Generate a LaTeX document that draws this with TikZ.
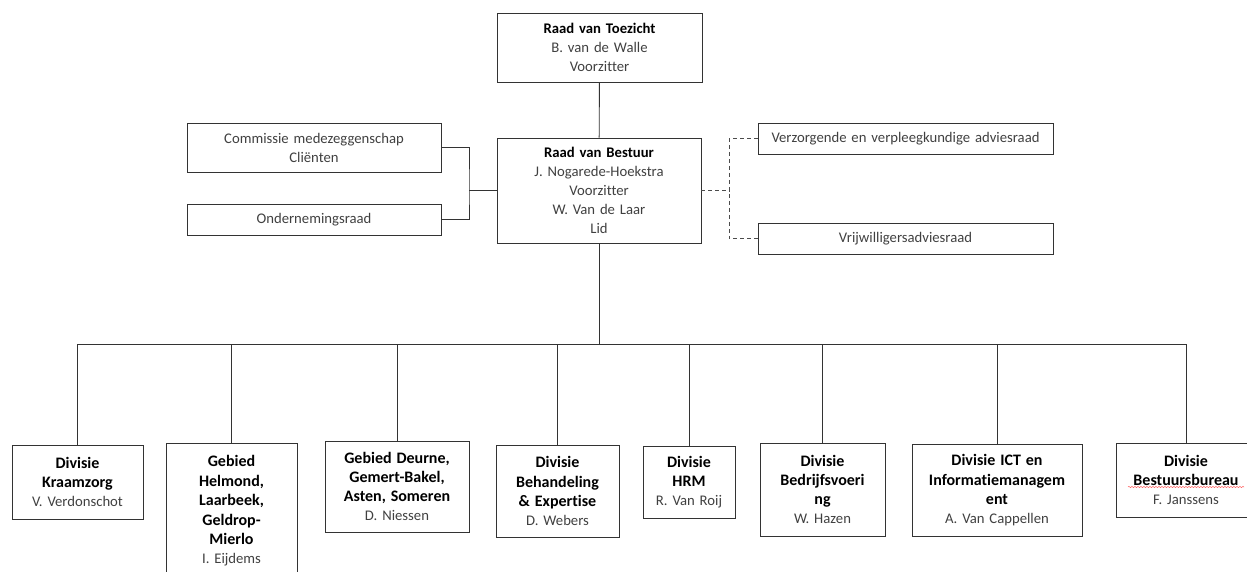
\documentclass[tikz,border=0pt]{standalone}
\usepackage{fontspec}
\setmainfont{Carlito}[Ligatures=NoCommon]
\usetikzlibrary{decorations.pathmorphing}
\newcommand{\kop}[1]{{\color{black}\bfseries #1}}
\newcommand{\divkop}[1]{{\color{black}\fontsize{16}{19.5}\selectfont\bfseries #1}}
\begin{document}
\begin{tikzpicture}[x=1pt, y=-1pt, line width=0.9pt,
  box/.style={draw=black!80, align=center, inner sep=0pt, font=\fontsize{14.7}{19}\selectfont, text=black!75},
  link/.style={draw=black!80},
  advies/.style={draw=black!70, dash pattern=on 4pt off 3pt},
  spell/.style={draw=red!65, line width=0.5pt, decorate, decoration={snake, amplitude=0.6pt, segment length=3pt}}]
\useasboundingbox (0,0) rectangle (1247,571);
\clip (0,0) rectangle (1247,571);
\node[box, text width=205pt, minimum height=69pt] (rvt) at (599.5,47.5) {\kop{Raad van Toezicht}\\B. van de Walle\\Voorzitter};
\node[box, text width=204pt, minimum height=105pt] (rvb) at (599,190.5) {\kop{Raad van Bestuur}\\J. Nogarede-Hoekstra\\Voorzitter\\W. Van de Laar\\Lid};
\node[box, text width=254pt, minimum height=49pt] (cmc) at (314,147.5) {Commissie medezeggenschap\\Cliënten};
\node[box, text width=254pt, minimum height=31pt] (or) at (314,219.5) {Ondernemingsraad};
\node[box, text width=295pt, minimum height=31pt] (vvar) at (905.5,138.5) {Verzorgende en verpleegkundige adviesraad};
\node[box, text width=295pt, minimum height=31pt] (var) at (905.5,238.5) {Vrijwilligersadviesraad};
\node[box, text width=131pt, minimum height=74pt] (kraam) at (77.5,482) {\divkop{Divisie\\Kraamzorg}\\V. Verdonschot};
\node[box, text width=131pt, minimum height=135pt] (helmond) at (231.5,510.5) {\divkop{Gebied\\Helmond,\\Laarbeek,\\Geldrop-\\Mierlo}\\I. Eijdems};
\node[box, text width=144pt, minimum height=91pt] (deurne) at (397,486.5) {\divkop{Gebied Deurne,\\Gemert-Bakel,\\Asten, Someren}\\D. Niessen};
\node[box, text width=123pt, minimum height=92pt] (behexp) at (557.5,491) {\divkop{Divisie\\Behandeling\\\& Expertise}\\D. Webers};
\node[box, text width=92pt, minimum height=72pt] (hrm) at (689,482) {\divkop{Divisie\\HRM}\\R. Van Roij};
\node[box, text width=125pt, minimum height=93pt] (bedr) at (822.5,489.5) {\divkop{Divisie\\Bedrijfsvoeri\\ng}\\W. Hazen};
\node[box, text width=170pt, minimum height=92pt] (ict) at (997,490) {\divkop{Divisie ICT en\\Informatiemanagem\\ent}\\A. Van Cappellen};
\node[box, text width=140pt, minimum height=74pt] (bb) at (1186,480) {\divkop{Divisie\\Bestuursbureau}\\F. Janssens};
\draw[spell] ([xshift=-58pt, yshift=-7pt]bb.center) -- ++(116,0);
\coordinate (lj) at (469,190.5);
\coordinate (rj) at (729,190.5);
\coordinate (bus) at (599,344);
\draw[link] (rvt) -- (rvb);
\draw[link] (cmc.east) -| (lj) |- (or.east);
\draw[link] (lj) -- (rvb.west);
\draw[advies] (rvb.east) -- (rj);
\draw[advies] (vvar.west) -| (rj) |- (var.west);
\draw[link] (rvb) -- (bus);
\foreach \d in {kraam,helmond,deurne,behexp,hrm,bedr,ict,bb}
  \draw[link] (bus) -| (\d.north);
\end{tikzpicture}
\end{document}
